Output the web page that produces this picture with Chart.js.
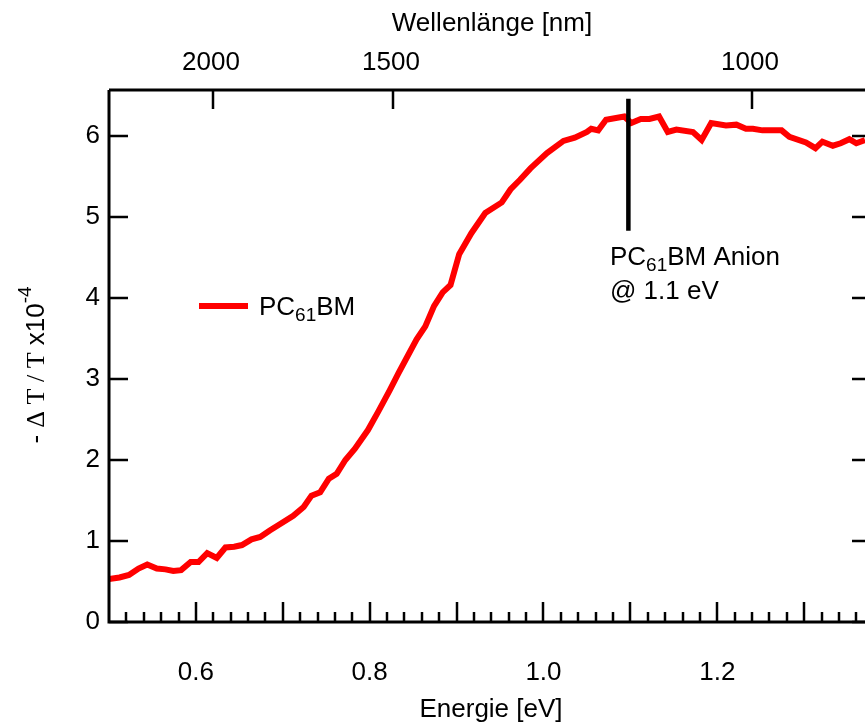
<!DOCTYPE html>
<html>
<head>
<meta charset="utf-8">
<script src="https://cdn.jsdelivr.net/npm/chart.js@4"></script>
<style>
  body { margin: 0; background: #fff; }
  canvas { display: block; }
</style>
</head>
<body>
<canvas id="myChart" width="865" height="727"></canvas>
<script>
// energy axis (eV) and -dT/T (x10^-4)
let energies = [0.500, 0.512, 0.523, 0.534, 0.544, 0.555, 0.565, 0.574, 0.583, 0.594,
  0.603, 0.613, 0.624, 0.634, 0.644, 0.653, 0.664, 0.674, 0.685, 0.697,
  0.712, 0.724, 0.733, 0.743, 0.753, 0.762, 0.772, 0.783, 0.798, 0.810,
  0.823, 0.833, 0.842, 0.854, 0.864, 0.874, 0.884, 0.893, 0.903, 0.917,
  0.933, 0.952, 0.962, 0.973, 0.985, 1.004, 1.023, 1.036, 1.050, 1.055,
  1.063, 1.072, 1.093, 1.101, 1.112, 1.122, 1.133, 1.143, 1.153, 1.172,
  1.182, 1.193, 1.210, 1.222, 1.233, 1.241, 1.252, 1.274, 1.283, 1.302,
  1.313, 1.321, 1.333, 1.342, 1.352, 1.360, 1.370];
let pcbmValues = [0.53, 0.55, 0.58, 0.66, 0.71, 0.66, 0.65, 0.63, 0.64, 0.74,
  0.74, 0.85, 0.79, 0.92, 0.93, 0.95, 1.02, 1.05, 1.13, 1.21,
  1.31, 1.42, 1.56, 1.60, 1.77, 1.83, 2.00, 2.14, 2.37, 2.60,
  2.86, 3.07, 3.25, 3.49, 3.65, 3.90, 4.07, 4.16, 4.54, 4.80,
  5.05, 5.18, 5.34, 5.46, 5.60, 5.79, 5.94, 5.98, 6.05, 6.09,
  6.07, 6.20, 6.24, 6.16, 6.21, 6.21, 6.24, 6.05, 6.08, 6.05,
  5.95, 6.16, 6.13, 6.14, 6.09, 6.09, 6.07, 6.07, 5.99, 5.92,
  5.85, 5.93, 5.88, 5.91, 5.96, 5.91, 5.95];

let energyLabels = [0.6, 0.8, 1.0, 1.2];
let yTicks = [0, 1, 2, 3, 4, 5, 6];
let wavelengthLabels = [2000, 1500, 1000];
let anionEnergy = 1.1;
let anionLine = [4.83, 6.46];

const SANS = "'Liberation Sans', Arial, sans-serif";
const SERIF = "'Liberation Serif', 'Times New Roman', serif";
const BIG = "26px " + SANS;
const SUB = "19px " + SANS;

function drawRich(ctx, parts, x, y) {
    let cx = x;
    parts.forEach(p => {
        ctx.font = p.font;
        ctx.fillText(p.text, cx, y + (p.dy || 0));
        cx += ctx.measureText(p.text).width;
    });
    return cx;
}

const axesPlugin = {
    id: "axesPlugin",
    afterDatasetsDraw(chart) {
        let ctx = chart.ctx;
        let xs = chart.scales.x;
        let ys = chart.scales.y;
        let area = chart.chartArea;
        ctx.save();
        ctx.strokeStyle = "#000";
        ctx.fillStyle = "#000";
        ctx.lineWidth = 3;
        ctx.lineCap = "butt";

        // frame
        ctx.beginPath();
        ctx.moveTo(area.left, area.top);
        ctx.lineTo(area.left, area.bottom);
        ctx.lineTo(area.right, area.bottom);
        ctx.moveTo(area.left, area.top);
        ctx.lineTo(area.right, area.top);
        ctx.stroke();

        // bottom ticks every 0.02, long every 0.1
        ctx.lineWidth = 2.5;
        for (let k = 25; k <= 68; k++) {
            let e = k * 0.02;
            let px = Math.round(xs.getPixelForValue(e));
            if (px < area.left + 2 || px > area.right) continue;
            let len = (k % 5 === 0) ? 20 : 10;
            ctx.beginPath();
            ctx.moveTo(px, area.bottom);
            ctx.lineTo(px, area.bottom - len);
            ctx.stroke();
        }
        ctx.font = BIG;
        ctx.textAlign = "center";
        ctx.textBaseline = "middle";
        energyLabels.forEach(e => {
            ctx.fillText(e.toFixed(1), xs.getPixelForValue(e), 673);
        });

        // y ticks left and right
        ctx.textAlign = "right";
        yTicks.forEach(v => {
            let py = Math.round(ys.getPixelForValue(v));
            ctx.beginPath();
            ctx.moveTo(area.left, py);
            ctx.lineTo(area.left + 19, py);
            ctx.moveTo(area.right, py);
            ctx.lineTo(area.right - 13, py);
            ctx.stroke();
            ctx.fillText(String(v), 100, py);
        });

        // top wavelength axis
        ctx.textAlign = "center";
        wavelengthLabels.forEach(w => {
            let px = Math.round(xs.getPixelForValue(1239.84 / w));
            ctx.beginPath();
            ctx.moveTo(px, area.top);
            ctx.lineTo(px, area.top + 19);
            ctx.stroke();
            ctx.fillText(String(w), px - 2, 63);
        });

        // axis titles
        ctx.fillText("Wellenlänge [nm]", 492, 24);
        ctx.fillText("Energie [eV]", 491, 710);

        // rotated y title
        ctx.save();
        ctx.translate(44, 365);
        ctx.rotate(-Math.PI / 2);
        ctx.textAlign = "left";
        ctx.textBaseline = "alphabetic";
        let parts = [
            {text: "- ", font: BIG},
            {text: "\u0394 T / T", font: "26px " + SERIF},
            {text: " x10", font: BIG},
            {text: "-4", font: SUB, dy: -13}
        ];
        let w = 0;
        parts.forEach(p => { ctx.font = p.font; w += ctx.measureText(p.text).width; });
        drawRich(ctx, parts, -w / 2, 0);
        ctx.restore();

        // legend
        ctx.strokeStyle = "#ff0000";
        ctx.lineWidth = 6;
        ctx.beginPath();
        ctx.moveTo(199, 306);
        ctx.lineTo(248, 306);
        ctx.stroke();
        ctx.textAlign = "left";
        ctx.textBaseline = "alphabetic";
        drawRich(ctx, [
            {text: "PC", font: BIG},
            {text: "61", font: SUB, dy: 6},
            {text: "BM", font: BIG}
        ], 259, 315);

        // anion marker
        let ax = xs.getPixelForValue(anionEnergy) - 2;
        ctx.strokeStyle = "#000";
        ctx.lineWidth = 4.5;
        ctx.beginPath();
        ctx.moveTo(ax, ys.getPixelForValue(anionLine[1]));
        ctx.lineTo(ax, ys.getPixelForValue(anionLine[0]));
        ctx.stroke();
        drawRich(ctx, [
            {text: "PC", font: BIG},
            {text: "61", font: SUB, dy: 6},
            {text: "BM Anion", font: BIG}
        ], 610, 265);
        drawRich(ctx, [{text: "@ 1.1 eV", font: BIG}], 610, 299);

        ctx.restore();
    }
};

let dataSet = [];
for (let i = 0; i < energies.length; i++) {
    dataSet.push({x: energies[i], y: pcbmValues[i]});
}

new Chart("myChart", {
    type: "line",
    data: {
        datasets: [{
            label: "PC61BM",
            data: dataSet,
            borderColor: "#ff0000",
            borderWidth: 6,
            pointRadius: 0,
            tension: 0,
            fill: false
        }]
    },
    options: {
        responsive: false,
        animation: false,
        devicePixelRatio: 1,
        layout: {padding: {left: 109, right: 0, top: 90, bottom: 105}},
        plugins: {legend: {display: false}, tooltip: {enabled: false}},
        scales: {
            x: {type: "linear", min: 0.5, max: 1.37, display: false},
            y: {type: "linear", min: 0, max: 6.568, display: false}
        }
    },
    plugins: [axesPlugin]
});
</script>
</body>
</html>
